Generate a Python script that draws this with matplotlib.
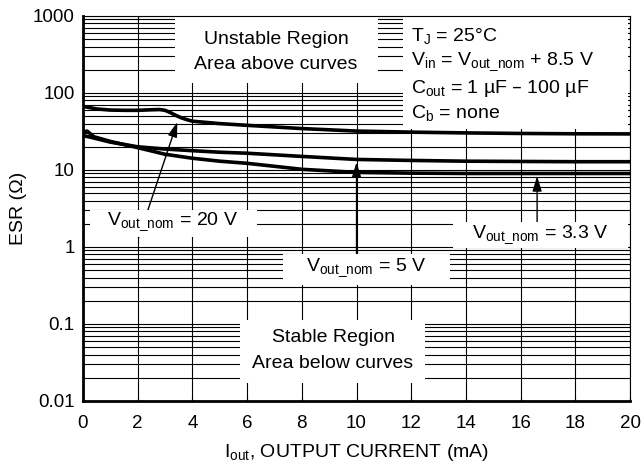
import matplotlib.pyplot as plt
from matplotlib.patches import Rectangle

plt.rcParams['font.family'] = ['Liberation Sans', 'DejaVu Sans']
plt.rcParams['mathtext.default'] = 'regular'

# curve data
i_20 = [0, 0.5, 1.0, 1.5, 2.0, 2.5, 2.8, 3.0, 3.2, 3.4, 3.6, 3.8, 4.0, 5, 6, 8, 10, 12, 14, 16, 18, 20]
esr_20 = [67, 62, 60, 59.5, 59.5, 60.5, 61, 59.5, 55.5, 51, 47.5, 45, 43, 40, 38, 34.5, 32, 31, 30.3, 29.8, 29.5, 29.4]

i_5 = [0, 0.3, 1, 2, 3, 4, 5, 6, 8, 10, 12, 14, 16, 18, 20]
esr_5 = [28, 26.5, 23, 20, 18.7, 17.8, 17, 16.5, 15, 13.7, 13.3, 13.0, 12.9, 12.8, 12.8]

i_33 = [0, 0.15, 0.4, 1, 2, 3, 4, 5, 6, 8, 10, 12, 14, 16, 18, 20]
esr_33 = [31, 32, 27, 23.5, 19.5, 16, 14.2, 13, 12.2, 10.2, 9.3, 9.1, 9.0, 9.0, 9.0, 9.0]

y_ticks = [0.01, 0.1, 1, 10, 100, 1000]
y_labels = ["0.01", "0.1", "1", "10", "100", "1000"]
x_ticks = list(range(0, 21, 2))

fig = plt.figure(figsize=(6.43, 4.63), dpi=100)
ax = fig.add_axes([0.129, 0.134, 0.851, 0.8315])
ax.set_yscale('log')
ax.set_xlim(0, 20)
ax.set_ylim(0.01, 1000)

ax.set_yticks(y_ticks)
ax.set_yticklabels(y_labels)
ax.set_xticks(x_ticks)
ax.tick_params(axis='both', which='major', labelsize=13.5, length=0)
ax.tick_params(axis='y', which='major', pad=6)
ax.tick_params(axis='x', which='major', pad=10)
ax.tick_params(axis='y', which='minor', left=False, right=True, direction='in', length=3)
ax.tick_params(axis='x', which='major', top=True, direction='in', length=3)
ax.yaxis.set_minor_formatter(plt.NullFormatter())

ax.grid(True, which='major', color='black', lw=0.8)
ax.grid(True, which='minor', axis='y', color='black', lw=0.8)

for side in ['left', 'bottom']:
    ax.spines[side].set_linewidth(2.0)
for side in ['top', 'right']:
    ax.spines[side].set_linewidth(0.8)

# white boxes hiding the grid: (x0, y0, w, h, zorder)
boxes = [(0.168, 0.826, 0.371, 0.174, 2),
         (0.585, 0.707, 0.411, 0.293, 2),
         (0.287, 0.047, 0.338, 0.163, 2),
         (0.013, 0.426, 0.305, 0.070, 5),
         (0.366, 0.301, 0.305, 0.081, 5),
         (0.676, 0.397, 0.320, 0.068, 5)]
for x0, y0, w, h, z in boxes:
    ax.add_patch(Rectangle((x0, y0), w, h, transform=ax.transAxes,
                           facecolor='white', edgecolor='none', zorder=z))

for xs, ys in [(i_20, esr_20), (i_5, esr_5), (i_33, esr_33)]:
    ax.plot(xs, ys, color='black', lw=2.6, zorder=4, solid_capstyle='round')

txt = dict(fontsize=14, zorder=6, transform=ax.transAxes, va='center')
ax.text(0.353, 0.938, "Unstable Region", ha='center', **txt)
ax.text(0.353, 0.875, "Area above curves", ha='center', **txt)

cond = ["T$_{J}$ = 25°C",
        r"V$_{in}$ = V$_{out\_nom}$ + 8.5 V",
        "C$_{out}$ = 1 µF – 100 µF",
        "C$_{b}$ = none"]
cond_y = [0.948, 0.881, 0.812, 0.748]
for s, yy in zip(cond, cond_y):
    ax.text(0.6, yy, s, ha='left', **txt)

ax.text(0.457, 0.164, "Stable Region", ha='center', **txt)
ax.text(0.457, 0.096, "Area below curves", ha='center', **txt)

ax.text(0.164, 0.465, r"V$_{out\_nom}$ = 20 V", ha='center', **txt)
ax.text(0.517, 0.345, r"V$_{out\_nom}$ = 5 V", ha='center', **txt)
ax.text(0.835, 0.431, r"V$_{out\_nom}$ = 3.3 V", ha='center', **txt)

arr = dict(arrowstyle='-|>,head_length=0.9,head_width=0.28', color='black', lw=1.0,
           shrinkA=0, shrinkB=0)
ax.annotate("", xy=(3.45, 42), xytext=(2.03, 1.3), arrowprops=arr, zorder=4.5)
ax.annotate("", xy=(10, 12.6), xytext=(10, 0.74), arrowprops=arr, zorder=4.5)
ax.annotate("", xy=(16.6, 8.3), xytext=(16.6, 2.1), arrowprops=arr, zorder=4.5)

ax.set_xlabel("I$_{out}$, OUTPUT CURRENT (mA)", fontsize=14, labelpad=7)
ax.set_ylabel("ESR (Ω)", fontsize=14, labelpad=4)

fig.savefig("out.png", dpi=100)
